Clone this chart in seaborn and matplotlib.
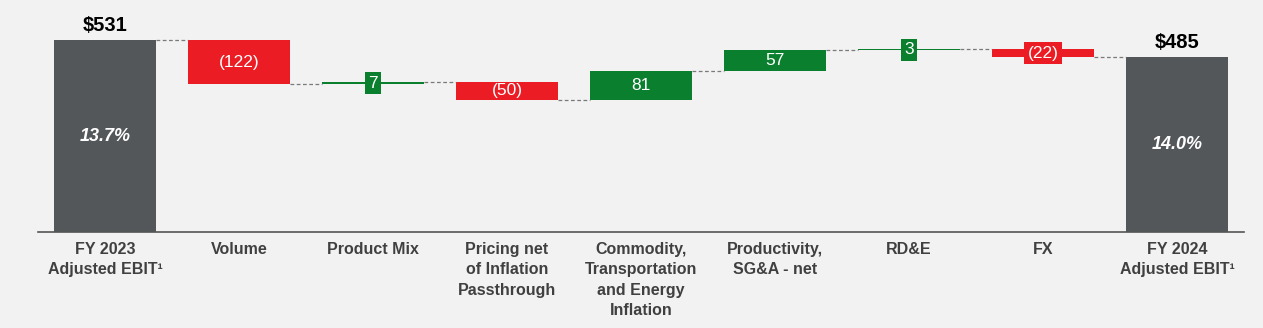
import numpy as np
import pandas as pd
import matplotlib
matplotlib.use("Agg")
import matplotlib.pyplot as plt
import seaborn as sns

# ---- data ----
categories = ["FY 2023\nAdjusted EBIT¹", "Volume", "Product Mix",
              "Pricing net\nof Inflation\nPassthrough",
              "Commodity,\nTransportation\nand Energy\nInflation",
              "Productivity,\nSG&A - net", "RD&E", "FX",
              "FY 2024\nAdjusted EBIT¹"]
start_total = 531
changes = [-122, 7, -50, 81, 57, 3, -22]
end_total = 485
margins = ["13.7%", "14.0%"]

GRAY = "#54575a"
RED = "#ec1c24"
GREEN = "#0a7f2e"
BG = "#f2f2f2"
TICK = "#404040"

sns.set_style("white")
plt.rcParams["font.family"] = ["Liberation Sans", "DejaVu Sans"]

levels = np.concatenate([[start_total], start_total + np.cumsum(changes)])
bottoms = [0] + [min(levels[i], levels[i + 1]) for i in range(len(changes))] + [0]
heights = [start_total] + [abs(c) for c in changes] + [end_total]
colors = [GRAY] + [GREEN if c > 0 else RED for c in changes] + [GRAY]

df = pd.DataFrame({"cat": categories, "height": heights})

fig = plt.figure(figsize=(12.63, 3.28), dpi=100)
fig.patch.set_facecolor(BG)
ax = fig.add_axes([38 / 1263, 96 / 328, 1206 / 1263, 232 / 328])
ax.set_facecolor(BG)

W = 0.76
sns.barplot(data=df, x="cat", y="height", order=categories, bottom=bottoms,
            width=W, color=GRAY, saturation=1, errorbar=None,
            linewidth=0, edgecolor="none", ax=ax)
for p, c in zip(ax.patches, colors):
    p.set_facecolor(c)

ax.set_xlim(-0.5, len(categories) - 0.5)
ax.set_ylim(0, 232 / 0.3607)

# connectors
for i in range(len(levels)):
    y = levels[i]
    ax.plot([i + W / 2, i + 1 - W / 2], [y, y], ls=(0, (3, 2)),
            color="#7a7a7a", lw=0.9, zorder=1)

# change labels
for i, c in enumerate(changes):
    txt = f"({abs(c)})" if c < 0 else f"{c}"
    ymid = (levels[i] + levels[i + 1]) / 2
    col = GREEN if c > 0 else RED
    kw = {}
    if abs(c) < 30:
        kw["bbox"] = dict(boxstyle="square,pad=0.2", fc=col, ec="none")
    ax.text(i + 1, ymid, txt, ha="center", va="center", color="white",
            fontsize=12.5, zorder=5, **kw)

# totals
tot_idx = [0, len(categories) - 1]
tot_vals = [start_total, end_total]
for idx, v, m in zip(tot_idx, tot_vals, margins):
    ax.annotate(f"${v}", (idx, v), xytext=(0, 4), textcoords="offset points",
                ha="center", va="bottom", fontsize=14.5, fontweight="bold",
                color="black")
    ax.text(idx, v / 2, m, ha="center", va="center", fontsize=13,
            fontweight="bold", fontstyle="italic", color="white")

ax.set_xticks(range(len(categories)))
ax.set_xticklabels(categories, fontsize=11.5, fontweight="bold", color=TICK,
                   linespacing=1.45)
ax.tick_params(axis="x", length=0, pad=7)
ax.set_yticks([])
ax.set_xlabel("")
ax.set_ylabel("")
for s in ["top", "right", "left"]:
    ax.spines[s].set_visible(False)
ax.spines["bottom"].set_color("#555555")
ax.spines["bottom"].set_linewidth(1.2)

fig.savefig("out.png", dpi=100, facecolor=BG)
